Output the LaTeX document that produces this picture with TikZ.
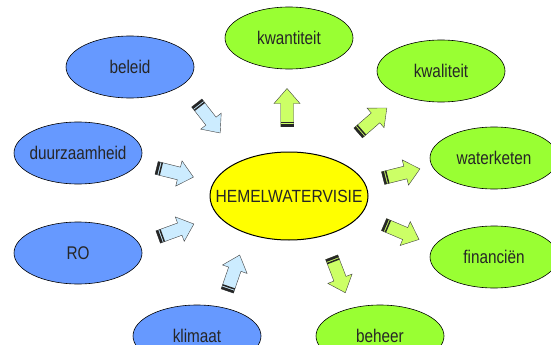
\documentclass[tikz,border=0pt]{standalone}
\usepackage{graphicx}
\usepackage{fontspec}
\setmainfont{Liberation Sans}
\usetikzlibrary{shapes.geometric}

\definecolor{inblue}{RGB}{102,153,255}
\definecolor{outgreen}{RGB}{153,255,51}
\definecolor{visieyellow}{RGB}{255,255,0}
\definecolor{inarrowfill}{RGB}{204,236,255}
\definecolor{outarrowfill}{RGB}{204,255,102}

% zero width label, slightly stretched upwards like the original
\newcommand{\lbl}[2][1.2]{\makebox[0pt]{\scalebox{1}[#1]{#2}}}

\tikzset{
  bubble/.style={ellipse, draw=black, line width=0.6pt, minimum width=128pt,
    minimum height=62pt, inner sep=0pt, text=black!85,
    font=\fontsize{15.3}{17}\selectfont},
  inbubble/.style={bubble, fill=inblue},
  outbubble/.style={bubble, fill=outgreen},
  visie/.style={ellipse, draw=black, line width=1pt, fill=visieyellow,
    minimum width=158pt, minimum height=88pt, inner sep=0pt, text=black!85,
    font=\fontsize{15.6}{17}\selectfont},
  pics/blockarrow/.style={code={
    \fill[#1, draw=black!75, line width=0.4pt] (-19,-6.5) -- (4,-6.5) -- (4,-13)
      -- (19,0) -- (4,13) -- (4,6.5) -- (-19,6.5) -- cycle;
    \fill[black!85] (-19,-6.5) rectangle (-16.5,6.5);
    \fill[black!85] (-15.5,-6.5) rectangle (-14,6.5);
  }}
}

\begin{document}
\begin{tikzpicture}[x=1pt,y=-1pt]
\clip (0,0) rectangle (551,345);
\fill[white] (0,0) rectangle (551,345);

% Centre
\node[visie] (hemel) at (289,196) {\lbl[1.13]{HEMELWATERVISIE}};

% Inputs
\foreach \name/\x/\y/\txt in {beleid/130/67/beleid, duurz/78/153/duurzaamheid,
    ro/78/253/RO, klimaat/197/336/klimaat} {
  \node[inbubble] (\name) at (\x,\y) {\lbl{\txt}};
}

% Outputs
\foreach \name/\x/\y/\txt in {kwan/289/38/kwantiteit, kwal/441/71/kwaliteit,
    keten/494/158/waterketen, fin/494/257/financiën, beheer/380/336/beheer} {
  \node[outbubble] (\name) at (\x,\y) {\lbl{\txt}};
}

% Arrows in (towards hemel)
\foreach \x/\y/\ang in {208.5/118/-52, 175/172.5/-14, 176/230.5/20, 233.5/273/71} {
  \pic[rotate=\ang] at (\x,\y) {blockarrow=inarrowfill};
}

% Arrows out (away from hemel)
\foreach \x/\y/\ang in {287/107.5/90, 372.5/120.5/41, 401.5/173.5/14,
    401.5/232/-23, 338.5/275/-69} {
  \pic[rotate=\ang] at (\x,\y) {blockarrow=outarrowfill};
}
\end{tikzpicture}
\end{document}
